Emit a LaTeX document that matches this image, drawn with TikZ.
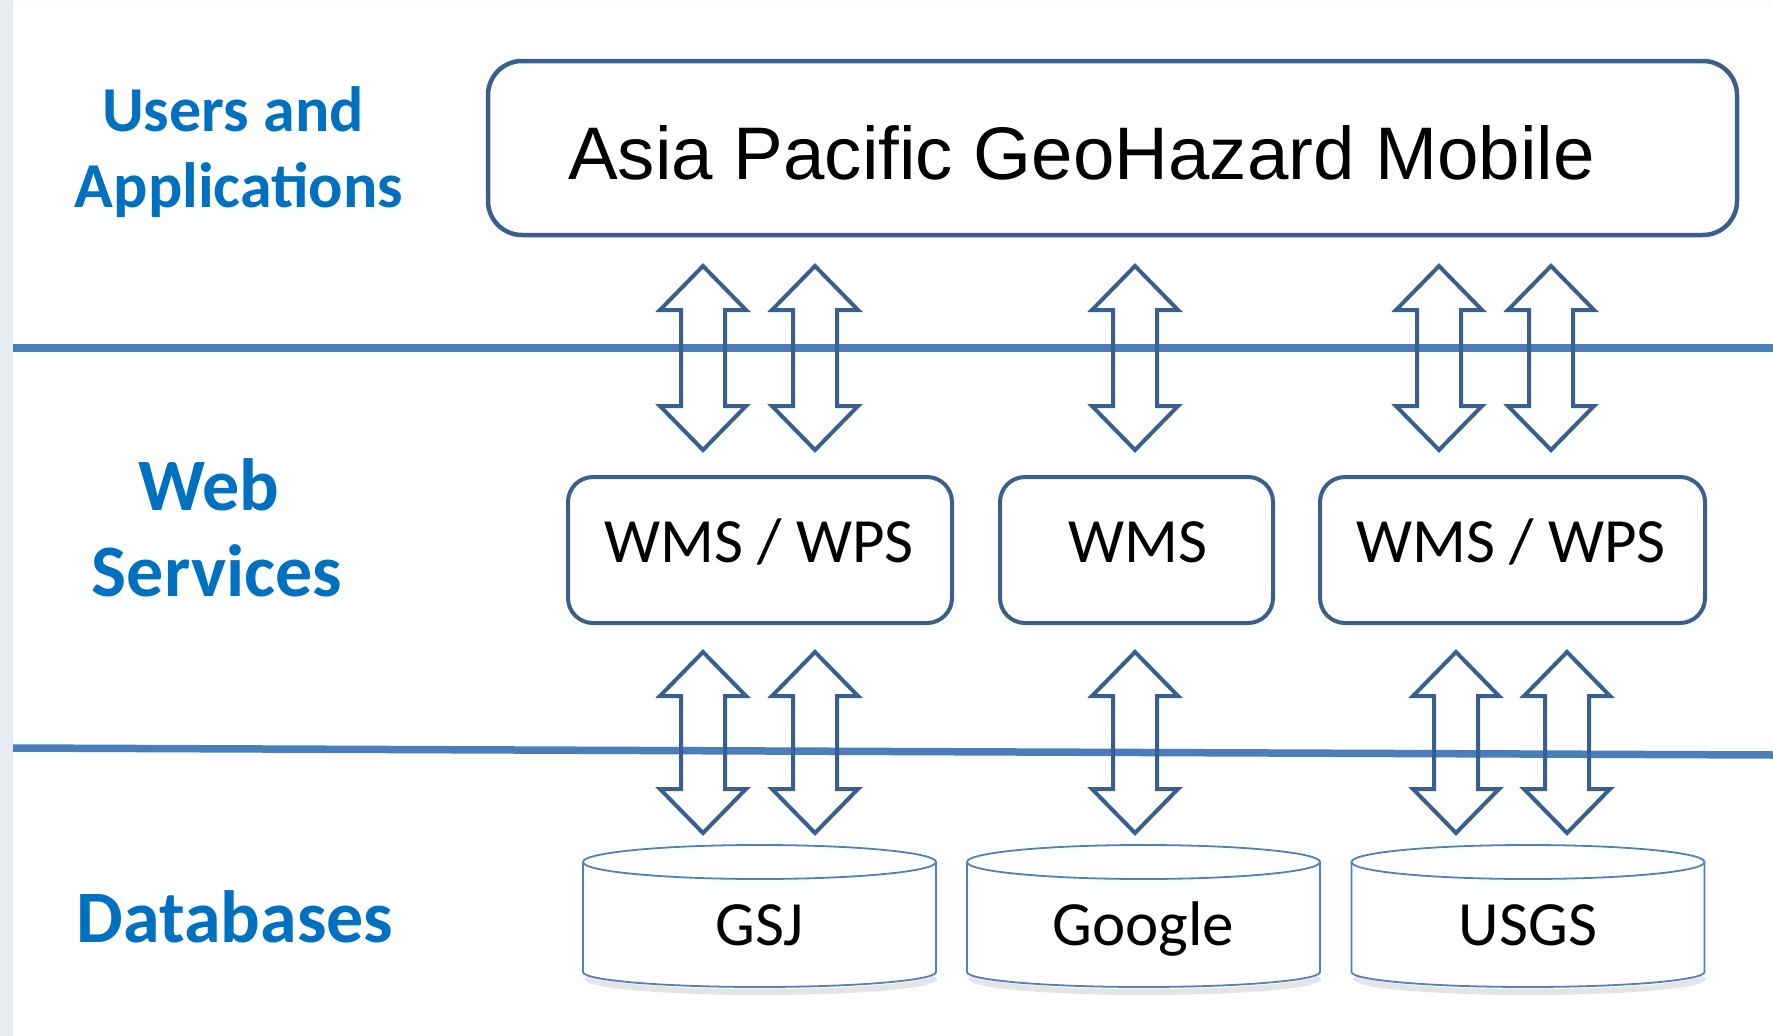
\documentclass[tikz,border=0pt]{standalone}
\usepackage{fontspec}
\newfontfamily\calibrif{Carlito}
\newfontfamily\arialf{Liberation Sans}
\definecolor{lblue}{HTML}{0070C0}
\definecolor{boxcol}{HTML}{3A5F8F}
\definecolor{linecol}{HTML}{4A7EBB}
\definecolor{cylcol}{HTML}{4F81BD}
\definecolor{stripcol}{HTML}{E8ECF4}
\newcommand\dblarrow[3]{%
  \draw[blockarr] (#1,#2) -- ++(43,44) -- ++(-21,0) -- (#1+22,#3-44) -- ++(21,0)
    -- (#1,#3) -- ++(-43,-44) -- ++(21,0) -- (#1-22,#2+44) -- ++(-21,0) -- cycle;}
\newcommand\dbcyl[3]{%
  \draw[gray!35, line width=6pt, opacity=.6] (#1-176.5+4,977) arc[start angle=180,end angle=360,x radius=174pt,y radius=15pt];
  \fill[white] (#1-176.5,862) -- (#1-176.5,972) arc[start angle=180,end angle=360,x radius=176.5pt,y radius=15pt] -- (#1+176.5,862) -- cycle;
  \draw[cylline] (#1-176.5,862) -- (#1-176.5,972) arc[start angle=180,end angle=360,x radius=176.5pt,y radius=15pt] -- (#1+176.5,862);
  \draw[cylline, fill=white] (#1,862) ellipse[x radius=176.5pt, y radius=17pt];
  \node[celltext, anchor=base] (#2) at (#1,945) {#3};}
\begin{document}
\begin{tikzpicture}[x=1pt,y=-1pt,
  layerlbl/.style={font=\calibrif\bfseries\fontsize{64}{77}\selectfont, text=lblue, inner sep=0pt, anchor=base},
  layerlblbig/.style={font=\calibrif\bfseries\fontsize{74}{88}\selectfont, text=lblue, inner sep=0pt, anchor=base},
  celltext/.style={font=\calibrif\fontsize{63}{76}\selectfont, text=black, inner sep=0pt},
  svcbox/.style={draw=boxcol, line width=4pt, rounded corners=25pt, minimum height=146pt, inner sep=0pt, fill=white},
  blockarr/.style={draw=boxcol, line width=4pt, line join=miter},
  cylline/.style={draw=cylcol, line width=1.8pt},
  layerline/.style={draw=linecol, line width=7.5pt}]
\useasboundingbox (0,0) rectangle (1773,1036);
\fill[stripcol] (0,0) rectangle (1773,1036);
\fill[white!96!stripcol] (13,0) rectangle (1773,7);
\fill[white] (13,7) rectangle (1773,1036);

% layer separators
\coordinate (l1a) at (13,348);
\coordinate (l1b) at (1773,348);
\coordinate (l2a) at (13,748);
\coordinate (l2b) at (1773,755);
\draw[layerline] (l1a) -- (l1b);
\draw[layerline] (l2a) -- (l2b);

% layer labels
\node[layerlbl] (ua1) at (233,131) {Users and};
\node[layerlbl] (ua2) at (239,207) {Applications};
\node[layerlblbig] (ws1) at (209,510) {Web};
\node[layerlblbig] (ws2) at (217,596) {Services};
\node[layerlblbig] (db) at (235,942) {Databases};

% top application box
\node[draw=boxcol, line width=4.5pt, rounded corners=34pt, minimum width=1249pt, minimum height=174pt, inner sep=0pt] (app) at (1112.5,148) {};
\node[font=\arialf\fontsize{74.5}{90}\selectfont, inner sep=0pt, anchor=base west] (apptext) at (568,179) {Asia Pacific GeoHazard Mobile};

% web service boxes
\node[svcbox, minimum width=384pt] (s1) at (760,550) {};
\node[svcbox, minimum width=273pt] (s2) at (1136.5,550) {};
\node[svcbox, minimum width=385pt] (s3) at (1512.5,550) {};
\node[celltext, anchor=base] (s1t) at (759,562) {WMS / WPS};
\node[celltext, anchor=base] (s2t) at (1138,562) {WMS};
\node[celltext, anchor=base] (s3t) at (1511,562) {WMS / WPS};

% databases
\dbcyl{759.5}{gsj}{GSJ}
\dbcyl{1143.5}{google}{Google}
\dbcyl{1528}{usgs}{USGS}

% block arrows app <-> services
\dblarrow{703}{266}{450}
\dblarrow{815}{266}{450}
\dblarrow{1135}{266}{450}
\dblarrow{1439}{266}{450}
\dblarrow{1551}{266}{450}

% block arrows services <-> databases
\dblarrow{703}{652}{833}
\dblarrow{815}{652}{833}
\dblarrow{1135}{652}{833}
\dblarrow{1456}{652}{833}
\dblarrow{1567}{652}{833}
\end{tikzpicture}
\end{document}
